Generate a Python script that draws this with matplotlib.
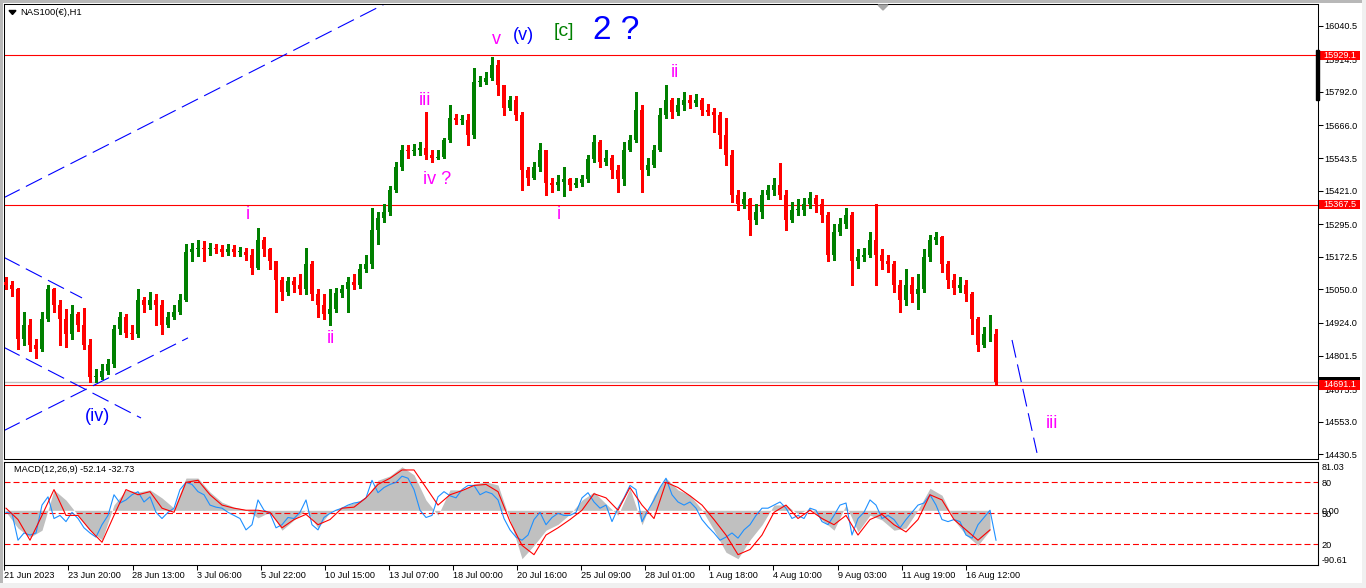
import matplotlib
matplotlib.use("Agg")
import matplotlib.pyplot as plt
from matplotlib.patches import Rectangle, Polygon
from matplotlib.transforms import blended_transform_factory
import numpy as np

plt.rcParams['font.family'] = ['Liberation Sans', 'DejaVu Sans']
plt.rcParams['lines.scale_dashes'] = False

# ---------------- data ----------------
symbol_title = "NAS100(€),H1"
open0 = 15076
close = [15068, 15050, 14862, 14918, 14843, 14825, 14937, 15050, 14993, 14937,
         14881, 14956, 14918, 14843, 14720, 14720, 14742, 14768, 14900, 14945,
         14888, 14881, 15012, 14993, 15012, 14993, 14918, 14945, 14967, 15012,
         15192, 15200, 15207, 15200, 15207, 15200, 15192, 15200, 15192, 15192,
         15181, 15132, 15237, 15200, 15155, 15087, 15042, 15080, 15068, 15050,
         15144, 15031, 14993, 14956, 14975, 15038, 15050, 15076, 15068, 15125,
         15144, 15275, 15320, 15342, 15425, 15508, 15575, 15568, 15575, 15583,
         15556, 15545, 15549, 15613, 15695, 15688, 15688, 15631, 15830, 15830,
         15845, 15894, 15819, 15733, 15763, 15706, 15500, 15470, 15508, 15575,
         15451, 15444, 15455, 15463, 15444, 15451, 15463, 15538, 15605, 15530,
         15545, 15500, 15463, 15575, 15613, 15725, 15500, 15519, 15575, 15706,
         15763, 15718, 15744, 15763, 15752, 15763, 15725, 15718, 15706, 15631,
         15556, 15406, 15369, 15388, 15312, 15342, 15406, 15425, 15444, 15406,
         15312, 15350, 15350, 15369, 15395, 15369, 15331, 15181, 15267, 15294,
         15331, 15155, 15170, 15181, 15237, 15181, 15155, 15144, 15068, 15012,
         15068, 15031, 15050, 15170, 15237, 15245, 15144, 15087, 15057, 15068,
         15031, 14937, 14843, 14881, 14881, 14704]
high = [15095, 15080, 15057, 14967, 14937, 14862, 14967, 15068, 15057, 15012,
        14975, 14993, 14967, 14982, 14862, 14750, 14768, 14787, 14918, 14967,
        14956, 14918, 15050, 15020, 15042, 15031, 15012, 14967, 14993, 15031,
        15219, 15226, 15237, 15230, 15226, 15222, 15215, 15219, 15215, 15211,
        15207, 15200, 15282, 15245, 15207, 15155, 15095, 15095, 15095, 15106,
        15207, 15155, 15050, 15031, 15050, 15057, 15068, 15095, 15106, 15144,
        15181, 15357, 15342, 15369, 15440, 15530, 15594, 15594, 15598, 15605,
        15718, 15575, 15575, 15620, 15744, 15710, 15706, 15710, 15883, 15853,
        15868, 15924, 15913, 15819, 15778, 15778, 15718, 15508, 15530, 15601,
        15575, 15470, 15481, 15508, 15470, 15470, 15481, 15556, 15631, 15613,
        15575, 15556, 15519, 15605, 15631, 15793, 15744, 15545, 15594, 15733,
        15819, 15770, 15770, 15793, 15782, 15785, 15770, 15748, 15733, 15715,
        15695, 15575, 15425, 15417, 15395, 15369, 15425, 15444, 15470, 15526,
        15425, 15380, 15388, 15395, 15417, 15406, 15388, 15342, 15294, 15320,
        15357, 15342, 15200, 15207, 15267, 15369, 15200, 15181, 15155, 15087,
        15125, 15095, 15106, 15200, 15256, 15267, 15252, 15155, 15106, 15095,
        15087, 15042, 14945, 14907, 14952, 14900]
low = [15050, 15027, 14825, 14843, 14817, 14794, 14817, 14930, 14967, 14843,
       14832, 14862, 14892, 14825, 14701, 14701, 14712, 14731, 14757, 14881,
       14870, 14862, 14870, 14967, 14975, 14918, 14881, 14907, 14937, 14956,
       15005, 15155, 15177, 15155, 15181, 15185, 15177, 15181, 15177, 15177,
       15162, 15106, 15125, 15177, 15125, 14967, 15012, 15030, 15042, 15031,
       15031, 15012, 14945, 14937, 14918, 14967, 15020, 14967, 15050, 15057,
       15117, 15132, 15219, 15305, 15331, 15417, 15500, 15545, 15553, 15553,
       15538, 15530, 15538, 15545, 15605, 15673, 15673, 15594, 15620, 15815,
       15823, 15838, 15782, 15706, 15725, 15688, 15425, 15444, 15463, 15493,
       15406, 15417, 15425, 15402, 15425, 15433, 15440, 15455, 15530, 15508,
       15519, 15470, 15414, 15444, 15568, 15605, 15414, 15481, 15508, 15568,
       15695, 15695, 15706, 15725, 15733, 15740, 15706, 15706, 15643, 15583,
       15519, 15380, 15350, 15357, 15256, 15294, 15320, 15388, 15406, 15388,
       15275, 15305, 15331, 15331, 15357, 15342, 15305, 15155, 15162, 15256,
       15282, 15068, 15132, 15155, 15170, 15068, 15125, 15117, 15042, 14967,
       14993, 15001, 14975, 15042, 15155, 15219, 15117, 15057, 15031, 15042,
       15005, 14881, 14817, 14832, 14855, 14693]

# MACD histogram (one value every second bar)
macd_hist = [-3, -33, -50, -37, 38, 19, -9, -37, -55, 10,
             38, 34, 38, 23, 4, 60, 60, 34, 15, 6,
             1, -14, -3, -37, -18, 1, -33, -3, 6, 14,
             23, 56, 64, 81, 66, 19, -9, 38, 38, 49,
             53, 47, -18, -90, -65, -37, -26, -7, 19, 34,
             12, -9, 41, -27, 28, 60, 38, 28, 1, -37,
             -78, -90, -55, -27, 10, 10, -7, 4, -18, -37,
             10, -40, -9, -18, -37, -33, 1, 41, 28, -18,
             -46, -65, -37]
# oscillator lines (0-100 scale)
osc_fast = [51, 50, 24, 31, 29, 31, 58, 66, 45, 48,
            42, 51, 45, 36, 31, 27, 39, 48, 68, 60,
            63, 68, 71, 61, 66, 51, 45, 51, 55, 73,
            80, 78, 71, 68, 58, 56, 55, 51, 48, 45,
            34, 39, 63, 53, 50, 36, 39, 46, 45, 51,
            63, 39, 34, 46, 50, 53, 55, 58, 60, 61,
            65, 82, 70, 75, 78, 80, 86, 84, 73, 53,
            46, 48, 66, 71, 67, 65, 73, 77, 77, 68,
            71, 69, 63, 45, 34, 27, 24, 29, 44, 51,
            39, 46, 50, 48, 48, 51, 65, 70, 61, 55,
            58, 42, 55, 65, 77, 73, 42, 53, 63, 75,
            84, 68, 61, 58, 61, 55, 44, 37, 31, 24,
            27, 31, 26, 34, 39, 48, 55, 55, 58, 61,
            55, 45, 48, 45, 55, 53, 42, 39, 48, 58,
            60, 29, 45, 51, 63, 58, 45, 48, 44, 36,
            44, 51, 58, 60, 68, 58, 44, 42, 44, 42,
            29, 26, 39, 46, 53, 24]
osc_slow = [55, 44, 24, 48, 73, 48, 48, 34, 22, 48,
            73, 68, 71, 55, 51, 80, 82, 68, 58, 55,
            53, 53, 51, 36, 44, 49, 39, 44, 55, 56,
            65, 78, 84, 92, 92, 75, 58, 68, 72, 77,
            78, 71, 42, 19, 10, 29, 36, 44, 53, 69,
            65, 53, 75, 58, 45, 80, 75, 67, 58, 44,
            29, 10, 15, 29, 51, 58, 45, 53, 45, 39,
            48, 29, 44, 49, 39, 32, 44, 68, 63, 44,
            34, 24, 34]
osc_levels = [80, 50, 20]
price_ticks = [16040.5, 15914.5, 15792.0, 15666.0, 15543.5, 15421.0, 15295.0,
               15172.5, 15050.0, 14924.0, 14801.5, 14675.5, 14553.0, 14430.5]
macd_ticks = [81.03, 0.00, -90.61]
h_levels = [15929.1, 15367.5, 14691.1]
date_labels = ['21 Jun 2023', '23 Jun 20:00', '28 Jun 13:00', '3 Jul 06:00',
               '5 Jul 22:00', '10 Jul 15:00', '13 Jul 07:00', '18 Jul 00:00',
               '20 Jul 16:00', '25 Jul 09:00', '28 Jul 01:00', '1 Aug 18:00',
               '4 Aug 10:00', '9 Aug 03:00', '11 Aug 19:00', '16 Aug 12:00']
macd_caption = "MACD(12,26,9) -52.14 -32.73"

# wave labels: (text, bar position, price, colour, size)
wave_labels = [
    ("v", 81.8, 15990, '#ff00ff', 13),
    ("(v)", 86.2, 16002, '#0000ff', 13),
    ("[c]", 93.0, 16020, '#008000', 14),
    ("2 ?", 101.7, 16024, '#0000ff', 24),
    ("iii", 69.8, 15761, '#ff00ff', 13),
    ("iv ?", 71.8, 15461, '#ff00ff', 13),
    ("i", 40.3, 15330, '#ff00ff', 13),
    ("ii", 54.2, 14864, '#ff00ff', 13),
    ("i", 92.2, 15330, '#ff00ff', 13),
    ("ii", 111.5, 15863, '#ff00ff', 13),
    ("iii", 174.3, 14545, '#ff00ff', 13),
    ("(iv)", 15.2, 14571, '#0000ff', 13),
]
# trend lines: ((bar, price), (bar, price))
trend_lines = [
    ((-0.4, 15394), (68.0, 16178)),
    ((-0.4, 14519), (30.33, 14868)),
    ((-0.4, 15171), (12.67, 15018)),
    ((-0.4, 14833), (22.5, 14567)),
    ((167.67, 14860), (171.83, 14436)),
]

# ---------------- figure ----------------
W, H = 1366, 588
fig = plt.figure(figsize=(W / 100, H / 100), dpi=100)
fig.patch.set_facecolor('white')

def fx(px):
    return px / W

def fy(py):
    return 1 - py / H

L, R = 4, 1317.5
ax = fig.add_axes([fx(L), fy(459), (R - L) / W, (459 - 4) / H])
axm = fig.add_axes([fx(L), fy(565), (R - L) / W, (565 - 461.7) / H])

n = len(close)
x = np.arange(n)
c = np.array(close, float)
o = np.array([open0] + close[:-1], float)
hi = np.array(high, float)
lo = np.array(low, float)
cols = np.where(c >= o, '#008000', '#ff0000')

ax.vlines(x, lo, hi, colors=cols, linewidth=0.8, antialiased=False, zorder=3)
ax.bar(x, np.maximum(np.abs(c - o), 3), bottom=np.minimum(c, o), width=0.6,
       color=cols, linewidth=0, antialiased=False, zorder=3)

for lv in h_levels:
    ax.axhline(lv, color='red', lw=0.8, zorder=2)
ax.axhline(close[-1], color='#c0c0c0', lw=1.0, zorder=1.9)

for (x0, p0), (x1, p1) in trend_lines:
    ax.plot([x0, x1], [p0, p1], color='#0000ff', lw=0.8, dashes=(13, 5), zorder=2.2)

for s, bx, p, col, fs in wave_labels:
    ax.text(bx, p, s, color=col, fontsize=fs, ha='center', va='center', zorder=4)

xl = ((L - 6) / 6, (R - 6) / 6)
ax.set_xlim(*xl)
ax.set_ylim(14413.0, 16122.0)
ax.set_xticks([])
ax.yaxis.tick_right()
ax.set_yticks(price_ticks)
ax.set_yticklabels([f"{t:.1f}" for t in price_ticks])
ax.tick_params(axis='y', right=True, left=False, length=3.6, width=0.75,
               pad=1.5, labelsize=6.6, colors='black')
for sp in ax.spines.values():
    sp.set_linewidth(0.75)
    sp.set_color('black')

# price labels on the right axis
bt = blended_transform_factory(ax.transAxes, ax.transData)
bx0 = (1319 - L) / (R - L)
bw = 41 / (R - L)
hh = 4.6 * 3.756
ax.add_patch(Rectangle((bx0, close[-1] - hh), bw, 2 * hh, transform=bt,
                       facecolor='black', edgecolor='none', clip_on=False, zorder=5))
for lv in h_levels:
    ax.add_patch(Rectangle((bx0, lv - hh), bw, 2 * hh, transform=bt,
                           facecolor='red', edgecolor='none', clip_on=False, zorder=6))
    ax.text(bx0 + bw / 2, lv, f"{lv:.1f}", transform=bt, color='white',
            fontsize=6.6, ha='center', va='center', zorder=7, clip_on=False)

# ---------------- indicator panel ----------------
xg = np.arange(len(macd_hist)) * 2
axm.fill_between(xg, 0, macd_hist, color='#c0c0c0', lw=0, zorder=1)
axm.set_xlim(*xl)
axm.set_ylim(-101.7, 90.4)
axs = axm.twinx()
axs.set_ylim(0, 100)
for lv in osc_levels:
    axs.axhline(lv, color='red', lw=0.8, dashes=(4.3, 2.2), zorder=1)
axs.plot(x, osc_fast, color='#1e90ff', lw=0.8, zorder=2)
axs.plot(xg, osc_slow, color='red', lw=0.8, zorder=3)

axm.yaxis.tick_right()
axm.set_yticks(macd_ticks)
axm.set_yticklabels([f"{t:.2f}" for t in macd_ticks])
axm.tick_params(axis='y', right=True, left=False, length=0, pad=3.2,
                labelsize=6.6, colors='black')
axs.set_yticks(osc_levels)
axs.set_yticklabels([str(v) for v in osc_levels])
axs.tick_params(axis='y', right=True, left=False, length=0, pad=3.2,
                labelsize=6.6, colors='black')

tick_pos = [(4.3 + 64.1 * k - 6) / 6 for k in range(len(date_labels))]
axm.set_xticks(tick_pos)
axm.set_xticklabels(date_labels)
for lab in axm.get_xticklabels():
    lab.set_ha('left')
axm.tick_params(axis='x', length=3.6, width=0.75, pad=0.8, labelsize=6.6, colors='black')
for a in (axm, axs):
    for sp in a.spines.values():
        sp.set_linewidth(0.75)
        sp.set_color('black')

axm.text(10 / (R - L) - 0.0 , 0.92, macd_caption, transform=axm.transAxes,
         fontsize=6.6, ha='left', va='center')

# ---------------- window decorations ----------------
fig.text(fx(20), fy(12.5), symbol_title, fontsize=6.8, ha='left', va='center')
fig.add_artist(Polygon([(fx(9), fy(10.5)), (fx(16), fy(10.5)), (fx(12.5), fy(14.5))],
                       closed=True, transform=fig.transFigure, color='black'))
fig.add_artist(Polygon([(fx(878), fy(5)), (fx(888), fy(5)), (fx(883), fy(10))],
                       closed=True, transform=fig.transFigure, color='#a8a8a8'))
fig.add_artist(Rectangle((fx(1316), fy(100)), 3 / W, 50 / H,
                         transform=fig.transFigure, color='black'))
for (x0, y0, w, h, colr) in [(0, 0, W, 3, '#b8b8b8'), (0, 0, 3, H, '#b8b8b8'),
                             (1362, 0, 4, H, '#f0f0f0'), (0, 583, W, 5, '#f0f0f0')]:
    fig.add_artist(Rectangle((fx(x0), fy(y0 + h)), w / W, h / H,
                             transform=fig.transFigure, color=colr, lw=0))

fig.savefig('out.png', dpi=100)
